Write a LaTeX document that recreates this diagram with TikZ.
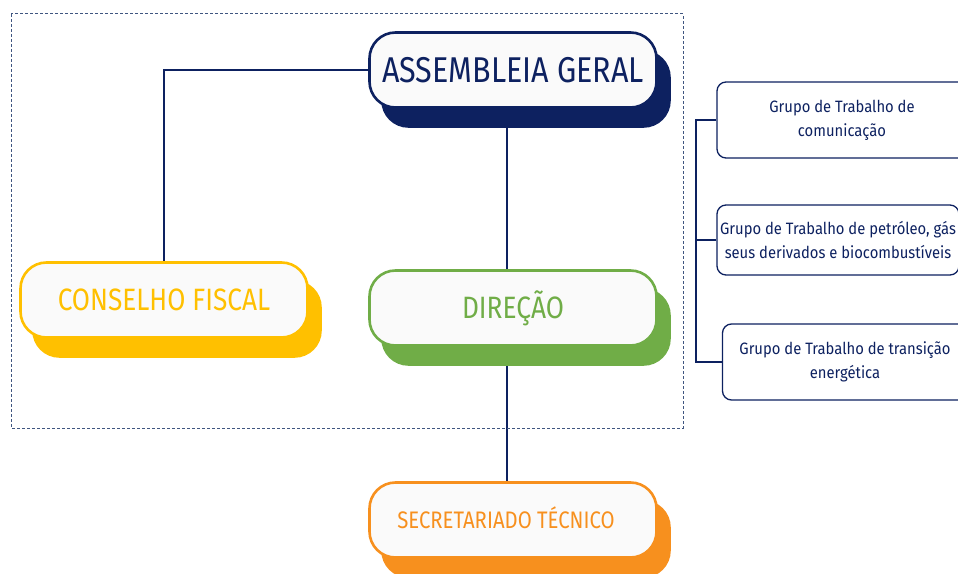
\documentclass[tikz,border=0pt]{standalone}
\usepackage{fontspec}
\setmainfont{Fira Sans}
\newfontfamily\titlefont{Fira Sans}[FakeStretch=0.85]
\newfontfamily\groupfont{Fira Sans}[FakeStretch=0.9]
\usetikzlibrary{shadows,backgrounds}

\definecolor{navy}{HTML}{0D2160}
\definecolor{gold}{HTML}{FFC000}
\definecolor{leaf}{HTML}{70AD47}
\definecolor{tang}{HTML}{F7901E}
\definecolor{paper}{HTML}{FAFAFA}
\definecolor{slate}{HTML}{3F5580}

\begin{document}
\begin{tikzpicture}[x=1bp, y=-1bp,
    bigbox/.style={rectangle, rounded corners=26bp, line width=2.6bp, fill=paper,
      minimum width=287bp, minimum height=75bp, inner sep=0pt,
      copy shadow={shadow xshift=13bp, shadow yshift=-19bp, fill=#1, draw=#1},
      draw=#1, text=#1},
    groupbox/.style={rectangle, rounded corners=9bp, draw=navy, line width=1.3bp,
      fill=white, minimum width=250bp, minimum height=#1, inner sep=0pt,
      align=center, text=navy, font=\groupfont\fontsize{16.5}{24}\selectfont},
    link/.style={navy, line width=1.3bp}]
  \clip (0,0) rectangle (958,574);
  \draw[slate, line width=1bp, dash pattern=on 3bp off 2bp] (11,14) rectangle (683,428);

  \node[bigbox=navy, font=\titlefont\fontsize{36}{40}\selectfont] (ag) at (513,70) {ASSEMBLEIA GERAL};
  \node[bigbox=gold, font=\titlefont\fontsize{31}{34}\selectfont] (cf) at (164,300) {CONSELHO FISCAL};
  \node[bigbox=leaf, font=\titlefont\fontsize{31}{34}\selectfont] (dir) at (513,308) {DIREÇÃO};
  \node[bigbox=tang, font=\titlefont\fontsize{24}{28}\selectfont] (sec) at (513,520) {\raisebox{4bp}{SECRETARIADO TÉCNICO}\hspace*{14bp}};

  \node[groupbox=76bp] (gt1) at (842,120) {Grupo de Trabalho de\\comunicação};
  \node[groupbox=70bp, minimum width=242bp] (gt2) at (838,240) {Grupo de Trabalho de petróleo, gás\\seus derivados e biocombustíveis};
  \node[groupbox=76bp, minimum width=245bp] (gt3) at (845,362) {Grupo de Trabalho de transição\\energética};
  \coordinate (bk) at (696,240);

  \begin{scope}[on background layer]
    \draw[link] (ag.west) -| (cf.north);
    \draw[link] ([xshift=-6bp]ag.south) -- ([xshift=-6bp]dir.north);
    \draw[link] ([xshift=-6bp]dir.south) -- ([xshift=-6bp]sec.north);
    \draw[link] (gt1.west) -- (gt1.west -| bk) -- (gt3.west -| bk) -- (gt3.west);
    \draw[link] (gt2.west) -- (bk);
  \end{scope}
\end{tikzpicture}
\end{document}
